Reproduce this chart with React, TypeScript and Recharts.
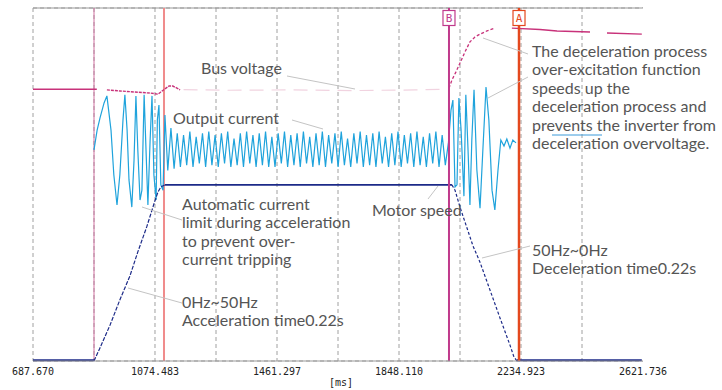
import { CartesianGrid, Line, LineChart, ReferenceLine, XAxis, YAxis } from "recharts";

type Pair = [number, number | null];

// time axis in ms, one grid division = 193.4 ms
const gridTicks = [687.67, 881.077, 1074.483, 1267.89, 1461.297, 1654.703, 1848.11, 2041.517, 2234.923, 2428.33, 2621.736];
const tickLabels = ["687.670", "", "1074.483", "", "1461.297", "", "1848.110", "", "2234.923", "", "2621.736"];
const yTicks = [0, 1, 2, 3, 4, 5, 6, 7, 8, 9, 10];

const triggerMs = 881.08;
const limitMs = 1103.0;
const cursorB = 2006.6;
const cursorA = 2228.6;

// bus voltage (divisions)
const busIdle: Pair[] = [[687.67, 7.7], [890, 7.7]];
const busAccel: Pair[] = [
  [922, 7.68], [963, 7.65], [1011, 7.62], [1059, 7.59], [1084, 7.56], [1093, 7.62],
  [1106, 7.71], [1119, 7.79], [1131, 7.79], [1144, 7.73], [1154, 7.68],
];
const busFaint: Pair[] = [[1165, 7.69], [1300, 7.67], [1500, 7.68], [1700, 7.66], [1900, 7.68], [1995, 7.7]];
const busRise: Pair[] = [
  [2006.6, 7.73], [2016, 7.96], [2028.8, 8.19], [2041.5, 8.44], [2057, 8.75],
  [2073, 9.04], [2089, 9.18], [2105, 9.26], [2127, 9.35], [2152, 9.43],
];
const busHigh: Pair[] = [
  [2206, 9.43], [2295, 9.39], [2349, 9.35], [2453.7, 9.32], [2480, null], [2507.6, 9.29], [2618, 9.26],
];

// motor speed (divisions, 5 = 50 Hz)
const speedRest1: Pair[] = [[687.67, 0.02], [881.1, 0.02]];
const speedAccel: Pair[] = [
  [881.1, 0], [900, 0.37], [932, 1.02], [963, 1.73], [995, 2.41], [1020, 3.09],
  [1049, 3.82], [1074, 4.53], [1084, 4.79], [1093, 4.93], [1106, 4.99],
];
const speedRun: Pair[] = [[1106, 4.99], [2016, 4.99]];
const speedDecel: Pair[] = [
  [2016, 4.99], [2025.7, 4.84], [2041.5, 4.36], [2082.7, 3.26], [2104.9, 2.8],
  [2136.6, 2.01], [2168.3, 1.22], [2200, 0.45], [2212.7, 0.11], [2222.2, 0],
];
const speedRest2: Pair[] = [[2222.2, 0.02], [2618, 0.02]];

// output current (divisions)
const currentAccel: Pair[] = [
  [881, 5.98], [891, 6.54], [900, 6.88], [913, 7.31], [922, 7.51], [935, 6.54], [944, 5.27],
  [954, 4.42], [963, 5.27], [973, 6.83], [979, 7.54], [986, 6.54], [992, 5.13], [1001, 4.36],
  [1008, 5.69], [1014, 7.51], [1020, 5.98], [1027, 4.56], [1033, 4.84], [1040, 7.54],
  [1046, 5.98], [1052, 4.42], [1059, 6.26], [1065, 7.51], [1071, 5.27], [1078, 4.56],
  [1082, 6.83], [1087, 7.25], [1093, 4.99], [1100, 4.84], [1106, 6.97],
];
const currentSteadyStart = 1115;
const currentSampleMs = 10;
const currentSteady = [
  5.4, 6.6, 5.45, 6.45, 5.5, 6.4, 5.55, 6.5, 5.5, 6.35, 5.6, 6.45, 5.5, 6.5, 5.55, 6.4,
  5.5, 6.45, 5.6, 6.5, 5.5, 6.3, 5.55, 6.45, 5.5, 6.5, 5.6, 6.4, 5.5, 6.45, 5.55, 6.5,
  5.5, 6.35, 5.5, 6.45, 5.6, 6.5, 5.5, 6.4, 5.55, 6.45, 5.5, 6.5, 5.6, 6.35, 5.5, 6.45,
  5.55, 6.5, 5.5, 6.4, 5.6, 6.45, 5.5, 6.5, 5.55, 6.3, 5.5, 6.45, 5.6, 6.5, 5.5, 6.4,
  5.55, 6.45, 5.5, 6.5, 5.6, 6.35, 5.5, 6.45, 5.55, 6.5, 5.5, 6.4, 5.6, 6.45, 5.5, 6.5,
  5.55, 6.35, 5.5, 6.45, 5.6, 6.5, 5.5, 6.4, 5.55, 6.2,
];
const currentDecel: Pair[] = [
  [2013, 7.11], [2019, 7.39], [2025.7, 4.93], [2032, 4.99], [2038, 7.45], [2045, 6.54],
  [2054, 4.67], [2060, 7.54], [2067, 5.98], [2073, 4.42], [2079, 6.26], [2086, 7.68],
  [2095, 5.41], [2105, 4.33], [2114, 5.98], [2124, 7.76], [2133, 6.83], [2143, 4.84],
  [2152, 4.28], [2162, 5.41], [2171, 6.26], [2181, 6.09], [2190, 6.29], [2200, 6.03],
  [2209, 6.26], [2219, 6.18],
];

const pts = (pairs: Pair[]) => pairs.map(([t, v]) => ({ t, v }));
const currentData = [
  ...pts(currentAccel),
  ...currentSteady.map((v, i) => ({ t: currentSteadyStart + i * currentSampleMs, v })),
  ...pts(currentDecel),
];

const BUS = "#c8327a";
const CURRENT = "#1fa3dc";
const SPEED = "#1c2a88";
const NOTE = "#555555";
const LEADER = "#c4c4c4";
const GRID = "#a0a0a0";

function TimeTick({ x, y, index }: { x?: number; y?: number; index?: number }) {
  const label = tickLabels[index ?? 0];
  if (!label) return null;
  return (
    <text x={x} y={(y ?? 0) + 12} textAnchor="middle" fontSize={10} fill="#222" fontFamily="DejaVu Sans Mono">
      {label}
    </text>
  );
}

function CursorTag({ viewBox, text, color }: { viewBox?: { x: number; y: number }; text: string; color: string }) {
  if (!viewBox) return null;
  const { x, y } = viewBox;
  return (
    <g>
      <rect x={x - 6} y={y + 2.5} width={12} height={15} fill="#fff" stroke={color} strokeWidth={1.2} />
      <text x={x} y={y + 14} textAnchor="middle" fontSize={11} fill={color} fontFamily="DejaVu Sans Mono">
        {text}
      </text>
    </g>
  );
}

function Notes() {
  const font = { fontFamily: "Lato, 'Open Sans', sans-serif", fontSize: 16, fill: NOTE };
  const block = (x: number, y: number, lines: string[]) => (
    <text x={x} y={y} {...font}>
      {lines.map((l, i) => (
        <tspan key={i} x={x} dy={i === 0 ? 0 : 18.4}>
          {l}
        </tspan>
      ))}
    </text>
  );
  return (
    <svg width={722} height={390} style={{ position: "absolute", left: 0, top: 0, pointerEvents: "none" }}>
      <g stroke={LEADER} strokeWidth={1}>
        <line x1={287} y1={76} x2={355} y2={89} />
        <line x1={292} y1={120} x2={323} y2={129} />
        <line x1={142} y1={207} x2={182} y2={220} />
        <line x1={128} y1={288} x2={182} y2={303} />
        <line x1={428} y1={199} x2={438} y2={186} />
        <line x1={483} y1={38} x2={528} y2={54} />
        <line x1={488} y1={98} x2={528} y2={77} />
        <line x1={482} y1={258} x2={530} y2={246} />
      </g>
      {block(201, 74, ["Bus voltage"])}
      {block(173, 124, ["Output current"])}
      {block(182, 210, ["Automatic current", "limit during acceleration", "to prevent over-", "current tripping"])}
      {block(182, 308, ["0Hz~50Hz", "Acceleration time0.22s"])}
      {block(372, 216, ["Motor speed"])}
      {block(532, 256, ["50Hz~0Hz", "Deceleration time0.22s"])}
      {block(532, 57, [
        "The deceleration process",
        "over-excitation function",
        "speeds up the",
        "deceleration process and",
        "prevents the inverter from",
        "deceleration overvoltage.",
      ])}
      <line x1={552} y1={135} x2={602} y2={135} stroke="#3a9ad9" strokeWidth={1} />
      <text x={341} y={386} textAnchor="middle" fontSize={10} fill="#222" fontFamily="DejaVu Sans Mono">
        [ms]
      </text>
    </svg>
  );
}

export default function App() {
  return (
    <div style={{ position: "absolute", left: 0, top: 0, width: 722, height: 390, background: "#fff" }}>
      <LineChart width={722} height={390} margin={{ top: 8, right: 79, left: 33, bottom: 0 }}>
        <CartesianGrid stroke={GRID} strokeDasharray="4 3" />
        {/* the scope has no line on its right edge */}
        <ReferenceLine x={2621.736} stroke="#fff" strokeWidth={2} />
        <XAxis
          type="number"
          dataKey="t"
          domain={[687.67, 2621.736]}
          ticks={gridTicks}
          interval={0}
          allowDataOverflow
          height={29}
          tickLine={false}
          tickSize={0}
          axisLine={{ stroke: "#999" }}
          tick={<TimeTick />}
        />
        <YAxis type="number" domain={[0, 10]} ticks={yTicks} width={0} tick={false} tickLine={false} axisLine={{ stroke: "#999" }} />
        <ReferenceLine y={10} stroke="#999" />
        <ReferenceLine x={triggerMs} stroke="#d070a0" strokeWidth={1} />
        <ReferenceLine x={limitMs} stroke="#f08c8c" strokeWidth={2} />

        <Line data={pts(busFaint)} dataKey="v" stroke="#f1d3e0" strokeWidth={1.2} strokeDasharray="14 8" dot={false} isAnimationActive={false} />
        <Line data={pts(busIdle)} dataKey="v" stroke={BUS} strokeWidth={1.5} dot={false} isAnimationActive={false} />
        <Line data={pts(busAccel)} dataKey="v" stroke={BUS} strokeWidth={1.4} strokeDasharray="3 1" dot={false} isAnimationActive={false} />
        <Line data={pts(busRise)} dataKey="v" stroke={BUS} strokeWidth={1.3} strokeDasharray="3 2" dot={false} isAnimationActive={false} />
        <Line data={pts(busHigh)} dataKey="v" stroke={BUS} strokeWidth={1.4} dot={false} isAnimationActive={false} />

        <Line data={currentData} dataKey="v" stroke={CURRENT} strokeWidth={1.2} dot={false} isAnimationActive={false} />

        <Line data={pts(speedRest1)} dataKey="v" stroke={SPEED} strokeWidth={2} dot={false} isAnimationActive={false} />
        <Line data={pts(speedAccel)} dataKey="v" stroke={SPEED} strokeWidth={1.2} strokeDasharray="4 1.5" dot={false} isAnimationActive={false} />
        <Line data={pts(speedRun)} dataKey="v" stroke={SPEED} strokeWidth={1.6} dot={false} isAnimationActive={false} />
        <Line data={pts(speedDecel)} dataKey="v" stroke={SPEED} strokeWidth={1.2} strokeDasharray="3 2" dot={false} isAnimationActive={false} />
        <Line data={pts(speedRest2)} dataKey="v" stroke={SPEED} strokeWidth={2} dot={false} isAnimationActive={false} />

        <ReferenceLine x={cursorB} stroke="#c03a8c" strokeWidth={2} label={<CursorTag text="B" color="#c03a8c" />} />
        <ReferenceLine x={cursorA} stroke="#e4481e" strokeWidth={2.5} label={<CursorTag text="A" color="#e4481e" />} />
      </LineChart>
      <Notes />
    </div>
  );
}
